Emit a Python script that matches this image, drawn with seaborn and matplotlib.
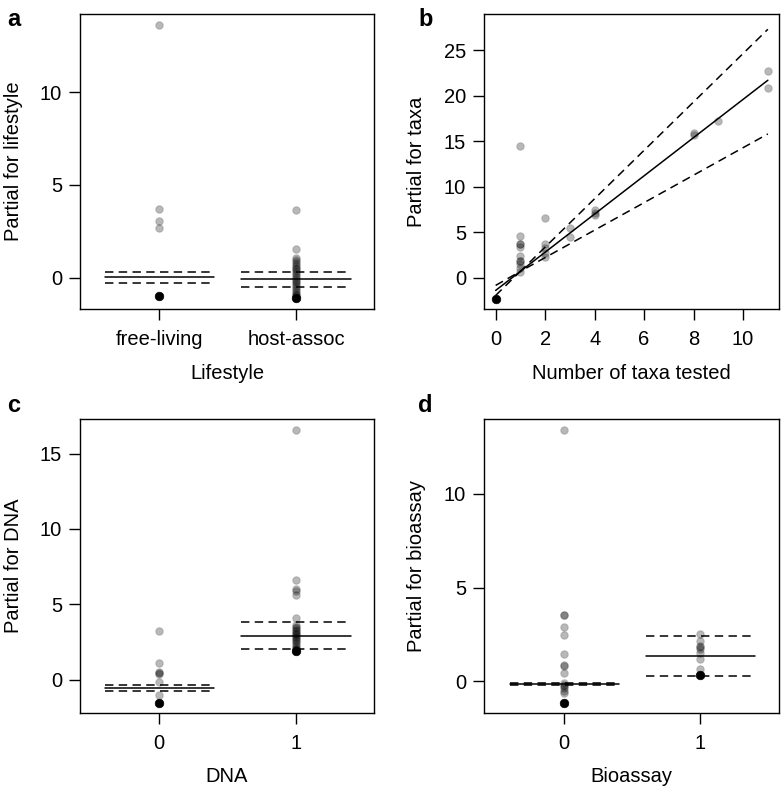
import numpy as np
import pandas as pd
import matplotlib
matplotlib.use("Agg")
import matplotlib.pyplot as plt
import seaborn as sns

# ---- panel a : lifestyle (factor) ----
life_levels = ["free-living", "host-assoc"]
life_grp = ["free-living"] * 4 + ["host-assoc"] * 24
life_y = [13.6, 3.7, 3.08, 2.69,
          3.64, 1.54, 1.05, 0.95, 0.85, 0.75, 0.65, 0.55, 0.45, 0.35, 0.25, 0.15,
          0.05, -0.05, -0.15, -0.25, -0.35, -0.45, -0.55, -0.65, -0.75, -0.85, -0.95, -1.0]
life_blk_grp = ["free-living", "host-assoc"]
life_blk_y = [-0.97, -1.1]
life_fit = [0.02, -0.09]
life_upper = [0.30, 0.30]
life_lower = [-0.27, -0.48]

# ---- panel b : number of taxa tested (numeric) ----
taxa_x = [1, 1, 1, 1, 1, 1, 1, 1, 1, 1, 1,
          2, 2, 2, 2, 2, 3, 3, 4, 4, 4, 8, 8, 9, 11, 11]
taxa_y = [14.44, 4.55, 3.7, 3.7, 3.4, 2.38, 1.84, 1.84, 1.47, 1.03, 0.66,
          6.6, 3.67, 3.23, 2.68, 2.31, 5.5, 4.5, 7.44, 7.07, 6.85, 15.94, 15.68, 17.22, 22.7, 20.8]
taxa_blk_x = [0]
taxa_blk_y = [-2.3]
taxa_line_x = [0, 1, 11]
taxa_fit = [-1.4, 0.7, 21.7]
taxa_upper = [-0.85, 0.7, 27.3]
taxa_lower = [-1.95, 0.7, 15.8]

# ---- panel c : DNA (factor) ----
dna_levels = ["0", "1"]
dna_grp = ["0"] * 7 + ["1"] * 24
dna_y = [3.2, 1.08, 0.5, 0.45, 0.4, -0.18, -1.0,
         16.6, 6.62, 5.98, 5.9, 5.6, 4.12, 3.65, 3.5, 3.4, 3.3, 3.2, 3.1, 3.0, 2.95,
         2.85, 2.75, 2.65, 2.55, 2.45, 2.3, 2.15, 2.05, 2.0, 1.95]
dna_blk_grp = ["0", "1"]
dna_blk_y = [-1.57, 1.88]
dna_fit = [-0.55, 2.92]
dna_upper = [-0.38, 3.83]
dna_lower = [-0.73, 2.06]

# ---- panel d : bioassay (factor) ----
bio_levels = ["0", "1"]
bio_grp = ["0"] * 15 + ["1"] * 8
bio_y = [13.4, 3.54, 3.54, 2.88, 2.49, 1.44, 0.87, 0.8, 0.45, -0.09, -0.2, -0.27, -0.35, -0.5, -0.62,
         2.53, 2.14, 1.87, 1.8, 1.73, 1.52, 1.2, 0.66]
bio_blk_grp = ["0", "1"]
bio_blk_y = [-1.17, 0.32]
bio_fit = [-0.16, 1.34]
bio_upper = [-0.11, 2.39]
bio_lower = [-0.21, 0.30]

sns.set_style("ticks")
plt.rcParams["font.family"] = ["Liberation Sans", "DejaVu Sans"]
plt.rcParams["text.color"] = "black"
plt.rcParams["axes.labelcolor"] = "black"
plt.rcParams["axes.linewidth"] = 1.0
plt.rcParams["xtick.major.size"] = 8
plt.rcParams["ytick.major.size"] = 8
plt.rcParams["xtick.major.width"] = 1.0
plt.rcParams["ytick.major.width"] = 1.0
plt.rcParams["xtick.color"] = "black"
plt.rcParams["ytick.color"] = "black"
plt.rcParams["xtick.labelcolor"] = "black"
plt.rcParams["ytick.labelcolor"] = "black"
plt.rcParams["axes.edgecolor"] = "black"

FS = 14.5
GREY_FACE = (0, 0, 0, 0.28)
GREY_EDGE = (0, 0, 0, 0.15)
DASH = (5.5, 3.5)

fig = plt.figure(figsize=(7.81, 7.95), dpi=100)
W, H = 781, 795


def add_ax(x0, y0, x1, y1):
    return fig.add_axes([x0 / W, 1 - y1 / H, (x1 - x0) / W, (y1 - y0) / H])


def points(ax, x, y, blk_x, blk_y):
    df = pd.DataFrame({"x": x, "y": y})
    sns.scatterplot(data=df, x="x", y="y", ax=ax, s=30, facecolor=GREY_FACE,
                    edgecolor=GREY_EDGE, linewidth=0.8, legend=False, zorder=3)
    bf = pd.DataFrame({"x": blk_x, "y": blk_y})
    sns.scatterplot(data=bf, x="x", y="y", ax=ax, s=38, facecolor="black",
                    edgecolor="black", linewidth=0.5, legend=False, zorder=4)


def factor_panel(ax, levels, grp, y, blk_grp, blk_y, fit, upper, lower):
    pos = [levels.index(g) for g in grp]
    bpos = [levels.index(g) for g in blk_grp]
    points(ax, pos, y, bpos, blk_y)
    for i in range(len(levels)):
        ax.plot([i - 0.4, i + 0.4], [fit[i]] * 2, color="black", lw=1.1, zorder=5)
        for v in (upper[i], lower[i]):
            ax.plot([i - 0.4, i + 0.4], [v] * 2, color="black", lw=1.1,
                    dashes=DASH, zorder=5)
    ax.set_xticks(range(len(levels)))
    ax.set_xticklabels(levels)
    ax.set_xlim(-0.58, 1.57)


def finish(ax, xlabel, ylabel, yticks, ylim):
    ax.set_ylim(*ylim)
    ax.set_yticks(yticks)
    ax.set_xlabel(xlabel, fontsize=FS, color="black")
    ax.set_ylabel(ylabel, fontsize=FS, color="black")
    ax.tick_params(labelsize=FS, pad=5, labelcolor="black")
    ax.tick_params(axis="x", pad=7)
    ax.yaxis.set_label_coords(-0.195, 0.5)
    ax.xaxis.set_label_coords(0.5, -0.185)
    for sp in ax.spines.values():
        sp.set_visible(True)
        sp.set_color("black")


# panel a
ax_a = add_ax(80, 14, 374, 309)
factor_panel(ax_a, life_levels, life_grp, life_y, life_blk_grp, life_blk_y,
             life_fit, life_upper, life_lower)
finish(ax_a, "Lifestyle", "Partial for lifestyle", [0, 5, 10], (-1.68, 14.2))

# panel b
ax_b = add_ax(484, 14, 779, 309)
points(ax_b, taxa_x, taxa_y, taxa_blk_x, taxa_blk_y)
lines = pd.DataFrame({"x": taxa_line_x, "fit": taxa_fit,
                      "upper": taxa_upper, "lower": taxa_lower})
sns.lineplot(data=lines, x="x", y="fit", ax=ax_b, color="black", lw=1.1, zorder=5)
sns.lineplot(data=lines, x="x", y="upper", ax=ax_b, color="black", lw=1.1,
             dashes=False, zorder=5).lines[-1].set_dashes(DASH)
sns.lineplot(data=lines, x="x", y="lower", ax=ax_b, color="black", lw=1.1,
             dashes=False, zorder=5).lines[-1].set_dashes(DASH)
ax_b.set_xlim(-0.47, 11.45)
ax_b.set_xticks(range(0, 11, 2))
finish(ax_b, "Number of taxa tested", "Partial for taxa", range(0, 26, 5), (-3.44, 28.98))

# panel c
ax_c = add_ax(80, 419, 374, 713)
factor_panel(ax_c, dna_levels, dna_grp, dna_y, dna_blk_grp, dna_blk_y,
             dna_fit, dna_upper, dna_lower)
finish(ax_c, "DNA", "Partial for DNA", [0, 5, 10, 15], (-2.22, 17.3))

# panel d
ax_d = add_ax(484, 419, 779, 713)
factor_panel(ax_d, bio_levels, bio_grp, bio_y, bio_blk_grp, bio_blk_y,
             bio_fit, bio_upper, bio_lower)
ax_d.set_xlim(-0.59, 1.58)
finish(ax_d, "Bioassay", "Partial for bioassay", [0, 5, 10], (-1.7, 14.0))

# panel letters
for lab, (px, py) in zip("abcd", [(7, 26), (418, 26), (7, 412), (418, 412)]):
    fig.text(px / W, 1 - py / H, lab, fontsize=17, fontweight="bold",
             ha="left", va="baseline", color="black")

fig.savefig("out.png", dpi=100, facecolor="white")
